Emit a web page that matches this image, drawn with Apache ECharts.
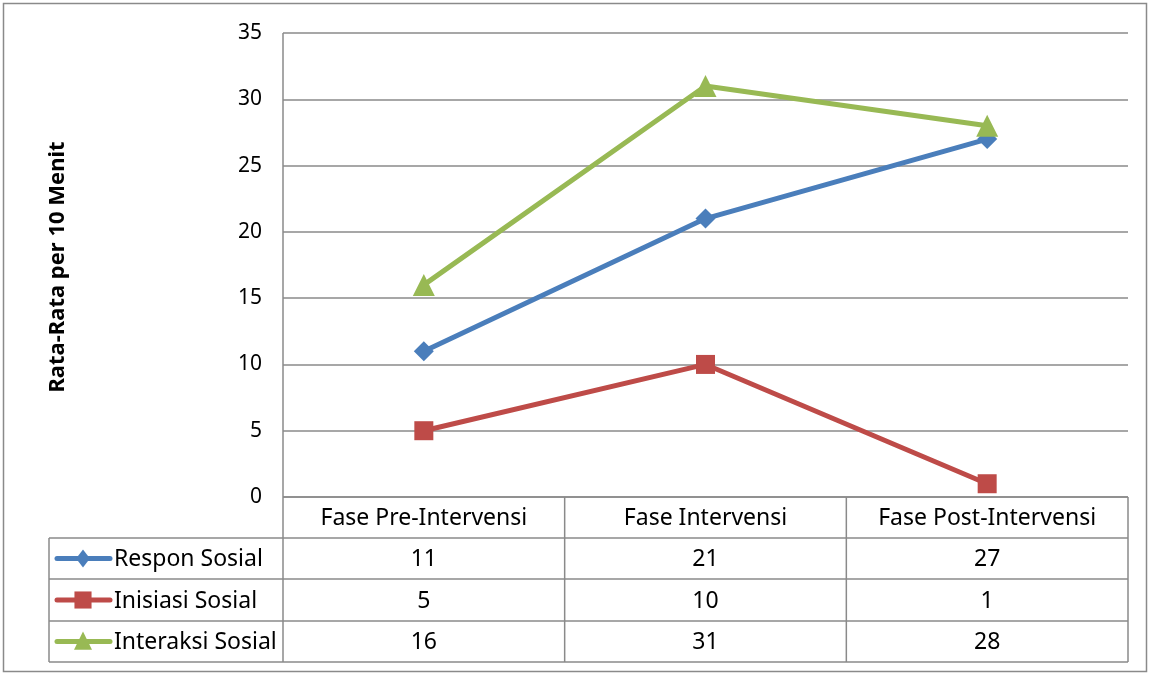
<!DOCTYPE html>
<html>
<head>
<meta charset="utf-8">
<style>
  html, body { margin: 0; padding: 0; background: #fff; }
  #chart { width: 1150px; height: 675px; }
</style>
<script src="https://cdn.jsdelivr.net/npm/echarts@6/dist/echarts.min.js"></script>
</head>
<body>
<div id="chart"></div>
<script>
// Phases on the x axis
const categories = ['Fase Pre-Intervensi', 'Fase Intervensi', 'Fase Post-Intervensi'];
// Series names and their values per phase
const seriesNames = ['Respon Sosial', 'Inisiasi Sosial', 'Interaksi Sosial'];
const responSosial = [11, 21, 27];
const inisiasiSosial = [5, 10, 1];
const interaksiSosial = [16, 31, 28];
// Y axis range
const yMin = 0, yMax = 35, yStep = 5;
const yTitle = 'Rata-Rata per 10 Menit';

const seriesValues = [responSosial, inisiasiSosial, interaksiSosial];
const colors = ['#4A7EBB', '#BE4B48', '#98B954'];
const symbols = ['diamond', 'rect', 'triangle'];
const symbolSizes = [20, 19, 22];

const FONT = '"Noto Sans", "Open Sans", sans-serif';
const TABLE_FONT_SIZE = 23;
const GRID = { left: 283, top: 33, right: 1128, bottom: 497 };
const ROWS = [497, 538, 579, 621, 662];   // table row boundaries
const TABLE_LEFT = 49;
const LINE_GREY = '#8A8A8A';

const chart = echarts.init(document.getElementById('chart'));

const option = {
  animation: false,
  backgroundColor: '#fff',
  grid: {
    left: GRID.left, top: GRID.top,
    width: GRID.right - GRID.left, height: GRID.bottom - GRID.top
  },
  xAxis: {
    type: 'category',
    data: categories,
    boundaryGap: true,
    axisLine: { show: false },
    axisTick: { show: false },
    axisLabel: { show: false },
    splitLine: { show: false }
  },
  yAxis: {
    type: 'value',
    min: yMin, max: yMax, interval: yStep,
    axisLine: { show: false },
    axisTick: { show: false },
    axisLabel: { color: '#000', fontSize: 21, fontFamily: FONT, margin: 21 },
    splitLine: { lineStyle: { color: LINE_GREY, width: 1.5 } }
  },
  series: seriesNames.map((name, i) => ({
    name,
    type: 'line',
    data: seriesValues[i],
    symbol: symbols[i],
    symbolSize: symbolSizes[i],
    lineStyle: { color: colors[i], width: 5 },
    itemStyle: { color: colors[i] },
    z: 3 + i
  }))
};
chart.setOption(option);

// Data table under the plot, built from the same arrays
const elements = [];
const line = (x1, y1, x2, y2) => ({
  type: 'line', silent: true, z: 10,
  shape: { x1, y1, x2, y2 },
  style: { stroke: LINE_GREY, lineWidth: 1.5 }
});
const text = (x, y, str, align) => ({
  type: 'text', silent: true, z: 11,
  x, y,
  style: {
    text: str, fill: '#000', font: TABLE_FONT_SIZE + 'px ' + FONT,
    align: align || 'center', verticalAlign: 'middle'
  }
});

const colW = (GRID.right - GRID.left) / categories.length;
const colCenters = categories.map((c) => chart.convertToPixel({ xAxisIndex: 0 }, c));

// outer frame of the whole figure
elements.push({
  type: 'rect', silent: true, z: 1,
  shape: { x: 3.5, y: 3.5, width: 1143, height: 668 },
  style: { fill: 'none', stroke: LINE_GREY, lineWidth: 1.5 }
});
// plot left edge down through the table
elements.push(line(GRID.left, GRID.top, GRID.left, ROWS[4]));
// horizontal table lines
elements.push(line(GRID.left, ROWS[0], GRID.right, ROWS[0]));
for (let r = 1; r < ROWS.length; r++) {
  elements.push(line(TABLE_LEFT, ROWS[r], GRID.right, ROWS[r]));
}
// vertical table lines
elements.push(line(TABLE_LEFT, ROWS[1], TABLE_LEFT, ROWS[4]));
for (let c = 1; c <= categories.length; c++) {
  const x = GRID.left + c * colW;
  elements.push(line(x, ROWS[0], x, ROWS[4]));
}
// header row
categories.forEach((c, i) => {
  elements.push(text(colCenters[i], (ROWS[0] + ROWS[1]) / 2 + 1, c));
});
// value rows with legend keys
seriesNames.forEach((name, s) => {
  const yc = (ROWS[s + 1] + ROWS[s + 2]) / 2;
  elements.push({
    type: 'line', silent: true, z: 12,
    shape: { x1: 57, y1: yc, x2: 110, y2: yc },
    style: { stroke: colors[s], lineWidth: 5, lineCap: 'round' }
  });
  const sz = symbolSizes[s] * 0.9;
  elements.push(Object.assign(
    symbols[s] === 'rect'
      ? { type: 'rect', shape: { x: 83 - sz / 2, y: yc - sz / 2, width: sz, height: sz } }
      : symbols[s] === 'diamond'
        ? { type: 'polygon', shape: { points: [[83, yc - sz / 2], [83 + sz / 2.6, yc], [83, yc + sz / 2], [83 - sz / 2.6, yc]] } }
        : { type: 'polygon', shape: { points: [[83, yc - sz / 2], [83 + sz / 2.2, yc + sz / 2.4], [83 - sz / 2.2, yc + sz / 2.4]] } },
    { silent: true, z: 13, style: { fill: colors[s] } }
  ));
  elements.push(text(114, yc + 1, name, 'left'));
  seriesValues[s].forEach((v, i) => {
    elements.push(text(colCenters[i], yc + 1, String(v)));
  });
});
// y axis title
elements.push({
  type: 'text', silent: true, z: 11,
  x: 58, y: 267, rotation: Math.PI / 2,
  style: {
    text: yTitle, fill: '#000', font: 'bold 22px ' + FONT,
    align: 'center', verticalAlign: 'middle'
  }
});

chart.setOption({ graphic: { elements } });
</script>
</body>
</html>
